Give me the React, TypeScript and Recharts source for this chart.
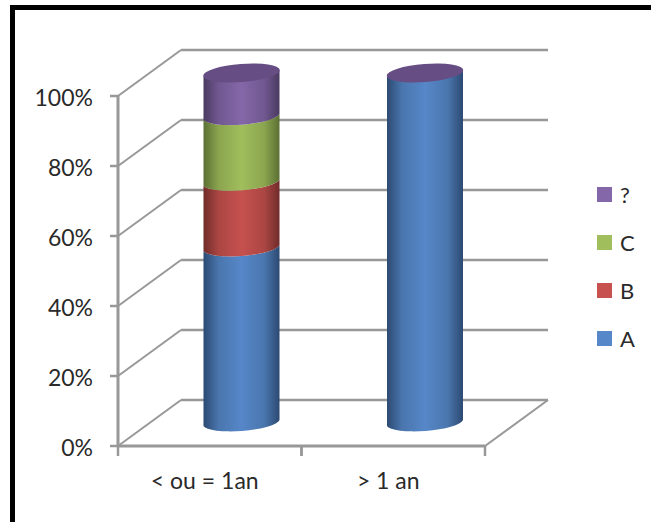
import React from 'react';
import { BarChart, Bar, XAxis, YAxis, CartesianGrid, Legend } from 'recharts';

const categories = ['< ou = 1an', '> 1 an'];
const seriesA = [50, 100];
const seriesB = [18.75, 0];
const seriesC = [18.75, 0];
const seriesUnknown = [12.5, 0];
const yTicks = [0, 20, 40, 60, 80, 100];

const data = categories.map((name, i) => ({
  name,
  A: seriesA[i],
  B: seriesB[i],
  C: seriesC[i],
  '?': seriesUnknown[i],
}));

const WIDTH = 651;
const HEIGHT = 522;
const X_AXIS_H = 30;
const MARGIN = { top: 96, right: 166, bottom: 76 - X_AXIS_H, left: 0 };
const AXIS_W = 118;
const PLOT_W = WIDTH - MARGIN.right - AXIS_W;
const FLOOR_Y = 446;

// fake 3D: how far the back wall sits from the front axes
const DEPTH_X = 63;
const DEPTH_Y = -46;
const LINE = '#989898';
const TEXT = '#2a2a2a';
const FONT = 'Lato, Carlito, sans-serif';

const colors: Record<string, [string, string, string]> = {
  A: ['#2c4a72', '#4a76ae', '#5687c8'],
  B: ['#702c2b', '#ab4643', '#c6514e'],
  C: ['#5b7034', '#8ba54f', '#a0be5c'],
  '?': ['#4a3a60', '#715891', '#8467a8'],
};

const Gradients = () => (
  <defs>
    {Object.entries(colors).map(([key, [edge, mid, center]], i) => (
      <linearGradient key={key} id={`cyl${i}`} x1="0" x2="1" y1="0" y2="0">
        <stop offset="0%" stopColor={edge} />
        <stop offset="20%" stopColor={mid} />
        <stop offset="50%" stopColor={center} />
        <stop offset="80%" stopColor={mid} />
        <stop offset="100%" stopColor={edge} />
      </linearGradient>
    ))}
  </defs>
);

// one slice of a tilted cylinder, the last series also gets the lid
const cylinder = (series: string, fillId: string) => (props: any) => {
  const { x, y, width, height } = props;
  const rx = width / 2;
  const tilt = 3;
  const left = x + DEPTH_X / 2;
  const right = left + width;
  const top = y + DEPTH_Y / 2;
  const bottom = top + height;
  const arc = `A${rx + 0.4} 9 -4.5 0`;
  const body = (
    <path
      d={`M${left} ${top + tilt} ${arc} 0 ${right} ${top - tilt} L${right} ${bottom - tilt} ${arc} 1 ${left} ${bottom + tilt} Z`}
      fill={`url(#${fillId})`}
    />
  );
  return (
    <g>
      {height > 0 && body}
      {series === '?' && (
        <ellipse
          cx={left + rx}
          cy={top}
          rx={rx + 0.4}
          ry={9}
          transform={`rotate(-4.5 ${left + rx} ${top})`}
          fill="#664d84"
        />
      )}
    </g>
  );
};

const wallLine = (props: any) => {
  const { x1, x2, y1, index } = props;
  const backY = y1 + DEPTH_Y;
  return (
    <g key={`wall-${index}`}>
      <path d={`M${x1} ${y1} L${x1 + DEPTH_X} ${backY}`} stroke={LINE} strokeWidth={2} fill="none" />
      <path d={`M${x1 + DEPTH_X} ${backY} L${x2 + DEPTH_X} ${backY}`} stroke={LINE} strokeWidth={2.5} fill="none" />
      {Math.abs(y1 - FLOOR_Y) < 1 && (
        <path d={`M${x2} ${y1} L${x2 + DEPTH_X} ${backY}`} stroke={LINE} strokeWidth={2} fill="none" />
      )}
    </g>
  );
};

// tick marks sit between the categories, the label stays centred
const CategoryTick = (props: any) => {
  const { x, payload } = props;
  const half = PLOT_W / categories.length / 2;
  return (
    <g>
      <line x1={x - half} x2={x - half} y1={FLOOR_Y} y2={FLOOR_Y + 10} stroke={LINE} strokeWidth={2.5} />
      <line x1={x + half} x2={x + half} y1={FLOOR_Y} y2={FLOOR_Y + 10} stroke={LINE} strokeWidth={2.5} />
      <text x={x - 5} y={FLOOR_Y + 43} textAnchor="middle" fontSize={23} fontFamily={FONT} fill={TEXT}>
        {payload.value}
      </text>
    </g>
  );
};

const LegendList = ({ payload }: any) => (
  <div style={{ fontFamily: FONT, fontSize: 22, color: TEXT }}>
    {[...(payload ?? [])].reverse().map((item: any) => (
      <div key={item.value} style={{ display: 'flex', alignItems: 'center', height: 48 }}>
        <span style={{ width: 15, height: 15, background: colors[item.value][2], marginRight: 8 }} />
        {item.value}
      </div>
    ))}
  </div>
);

export default function App() {
  return (
    <div style={{ position: 'absolute', left: 0, top: 0, width: WIDTH, height: HEIGHT, background: '#fff', overflow: 'hidden' }}>
      <div style={{ position: 'absolute', left: 10, top: 5, right: 0, bottom: 0, borderTop: '5px solid #000', borderLeft: '5px solid #000' }} />
      <BarChart width={WIDTH} height={HEIGHT} data={data} margin={MARGIN} barCategoryGap={0} style={{ position: 'absolute', left: 0, top: 0 }}>
        <Gradients />
        <CartesianGrid vertical={false} horizontal={wallLine} />
        <XAxis dataKey="name" height={X_AXIS_H} tick={<CategoryTick />} tickLine={false} axisLine={{ stroke: LINE, strokeWidth: 3 }} interval={0} />
        <YAxis
          width={AXIS_W}
          domain={[0, 100]}
          ticks={yTicks}
          tickFormatter={(v: number) => `${v}%`}
          tick={{ fontSize: 23, fontFamily: FONT, fill: TEXT, dy: 2 }}
          tickSize={8}
          tickMargin={17}
          tickLine={{ stroke: LINE, strokeWidth: 2.5 }}
          axisLine={{ stroke: LINE, strokeWidth: 3 }}
        />
        <Legend
          layout="vertical"
          align="center"
          verticalAlign="middle"
          itemSorter={null}
          content={<LegendList />}
          wrapperStyle={{ left: 597, top: 170, width: 50 }}
        />
        <Bar dataKey="A" stackId="s" barSize={76} fill={colors.A[2]} isAnimationActive={false} shape={cylinder('A', 'cyl0')} />
        <Bar dataKey="B" stackId="s" barSize={76} fill={colors.B[2]} isAnimationActive={false} shape={cylinder('B', 'cyl1')} />
        <Bar dataKey="C" stackId="s" barSize={76} fill={colors.C[2]} isAnimationActive={false} shape={cylinder('C', 'cyl2')} />
        <Bar dataKey="?" stackId="s" barSize={76} fill={colors['?'][2]} isAnimationActive={false} shape={cylinder('?', 'cyl3')} />
      </BarChart>
    </div>
  );
}
